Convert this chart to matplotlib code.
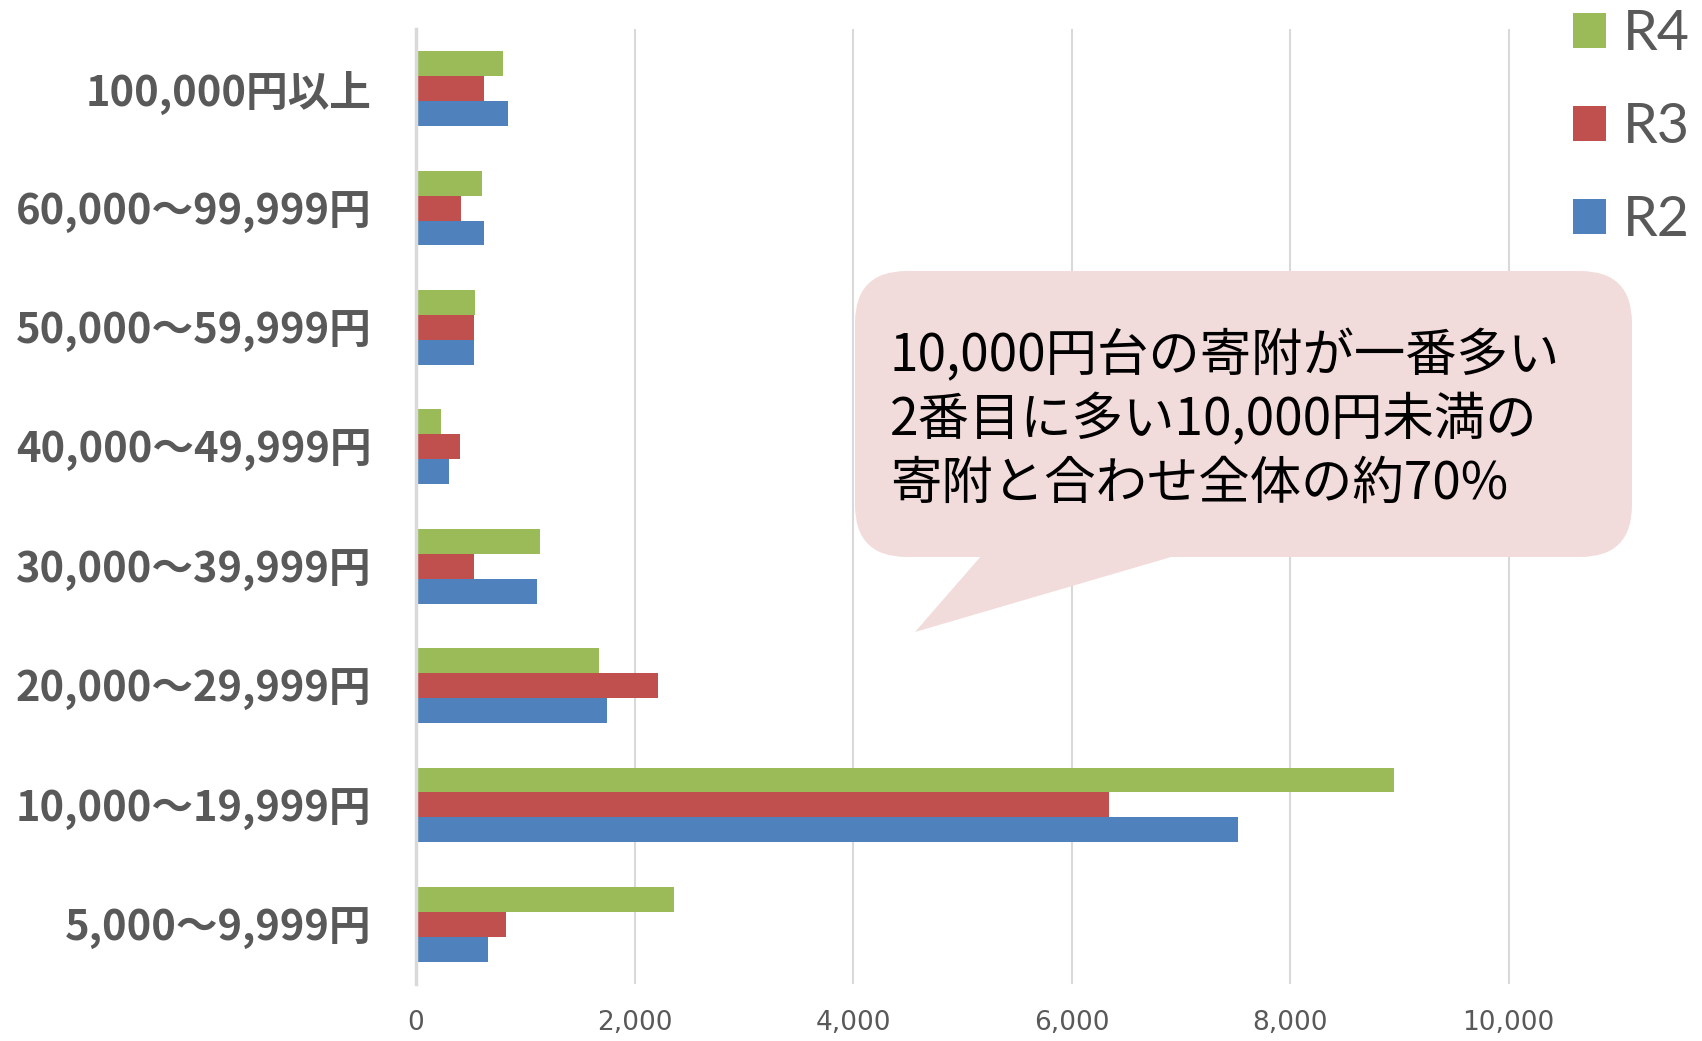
import matplotlib
matplotlib.use("Agg")
import matplotlib.pyplot as plt
import numpy as np
from matplotlib.patches import FancyBboxPatch, Polygon, Patch

plt.rcParams['font.family'] = ['Noto Sans CJK JP', 'DejaVu Sans']

categories = ["100,000円以上", "60,000～99,999円", "50,000～59,999円", "40,000～49,999円",
              "30,000～39,999円", "20,000～29,999円", "10,000～19,999円", "5,000～9,999円"]
series_names = ["R4", "R3", "R2"]
r4 = [793, 604, 543, 226, 1137, 1677, 8950, 2360]
r3 = [625, 412, 531, 400, 528, 2217, 6343, 823]
r2 = [839, 622, 534, 305, 1104, 1747, 7527, 656]
xticks = [0, 2000, 4000, 6000, 8000, 10000]
xticklabels = ["0", "2,000", "4,000", "6,000", "8,000", "10,000"]
note_lines = ["10,000円台の寄附が一番多い", "2番目に多い10,000円未満の", "寄附と合わせ全体の約70%"]

colors = {"R4": "#9BBB59", "R3": "#C0504D", "R2": "#4F81BD"}
gray = "#595959"

W, H = 1702, 1041
fig = plt.figure(figsize=(W / 100, H / 100), dpi=100)
ax = fig.add_axes([416 / W, (H - 984) / H, 1202 / W, (984 - 29) / H])

n = len(categories)
pos = np.arange(n)
bh = 0.209
for k, (name, vals) in enumerate(zip(series_names, [r4, r3, r2])):
    offs = (k - 1) * bh
    ax.barh(pos + offs, vals, height=bh, color=colors[name], edgecolor='none', zorder=3)

ax.set_ylim(n - 0.5, -0.5)
ax.set_xlim(0, 11000)
ax.set_yticks(pos)
ax.set_yticklabels(categories, fontsize=30, color=gray, fontweight='bold')
ax.set_xticks(xticks)
ax.set_xticklabels(xticklabels, fontsize=19, color=gray, family=['Liberation Sans Narrow', 'DejaVu Sans'])
ax.tick_params(axis='y', length=0, pad=32)
ax.tick_params(axis='x', length=0, pad=19)
ax.grid(axis='x', color='#D9D9D9', linewidth=1.5, zorder=0)
for s in ['top', 'right', 'bottom']:
    ax.spines[s].set_visible(False)
ax.spines['left'].set_color('#D9D9D9')
ax.spines['left'].set_linewidth(2.5)
ax.spines['left'].set_zorder(4)

# legend
handles = [Patch(facecolor=colors[s], edgecolor='none', label=s) for s in series_names]
leg = fig.legend(handles=handles, loc='upper left', bbox_to_anchor=(1534 / W, 1 + 30 / H),
                 frameon=False, fontsize=40, handlelength=0.6, handleheight=0.6,
                 handletextpad=0.3, labelspacing=0.76, borderpad=0.2)
for t in leg.get_texts():
    t.set_color(gray)
    t.set_family(['Lato', 'DejaVu Sans'])

# callout overlay
ov = fig.add_axes([0, 0, 1, 1], zorder=10)
ov.set_xlim(0, W)
ov.set_ylim(H, 0)
ov.axis('off')
box = FancyBboxPatch((855, 271), 777, 286, boxstyle="round,pad=0,rounding_size=52",
                     facecolor='#F2DCDB', edgecolor='none')
ov.add_patch(box)
tail = Polygon([(982, 555), (1178, 555), (915, 632)], closed=True, facecolor='#F2DCDB', edgecolor='none')
ov.add_patch(tail)
for i, line in enumerate(note_lines):
    ov.text(890, 356 + i * 64, line, fontsize=37, color='black', va='center', ha='left')

fig.savefig("out.png", dpi=100)
